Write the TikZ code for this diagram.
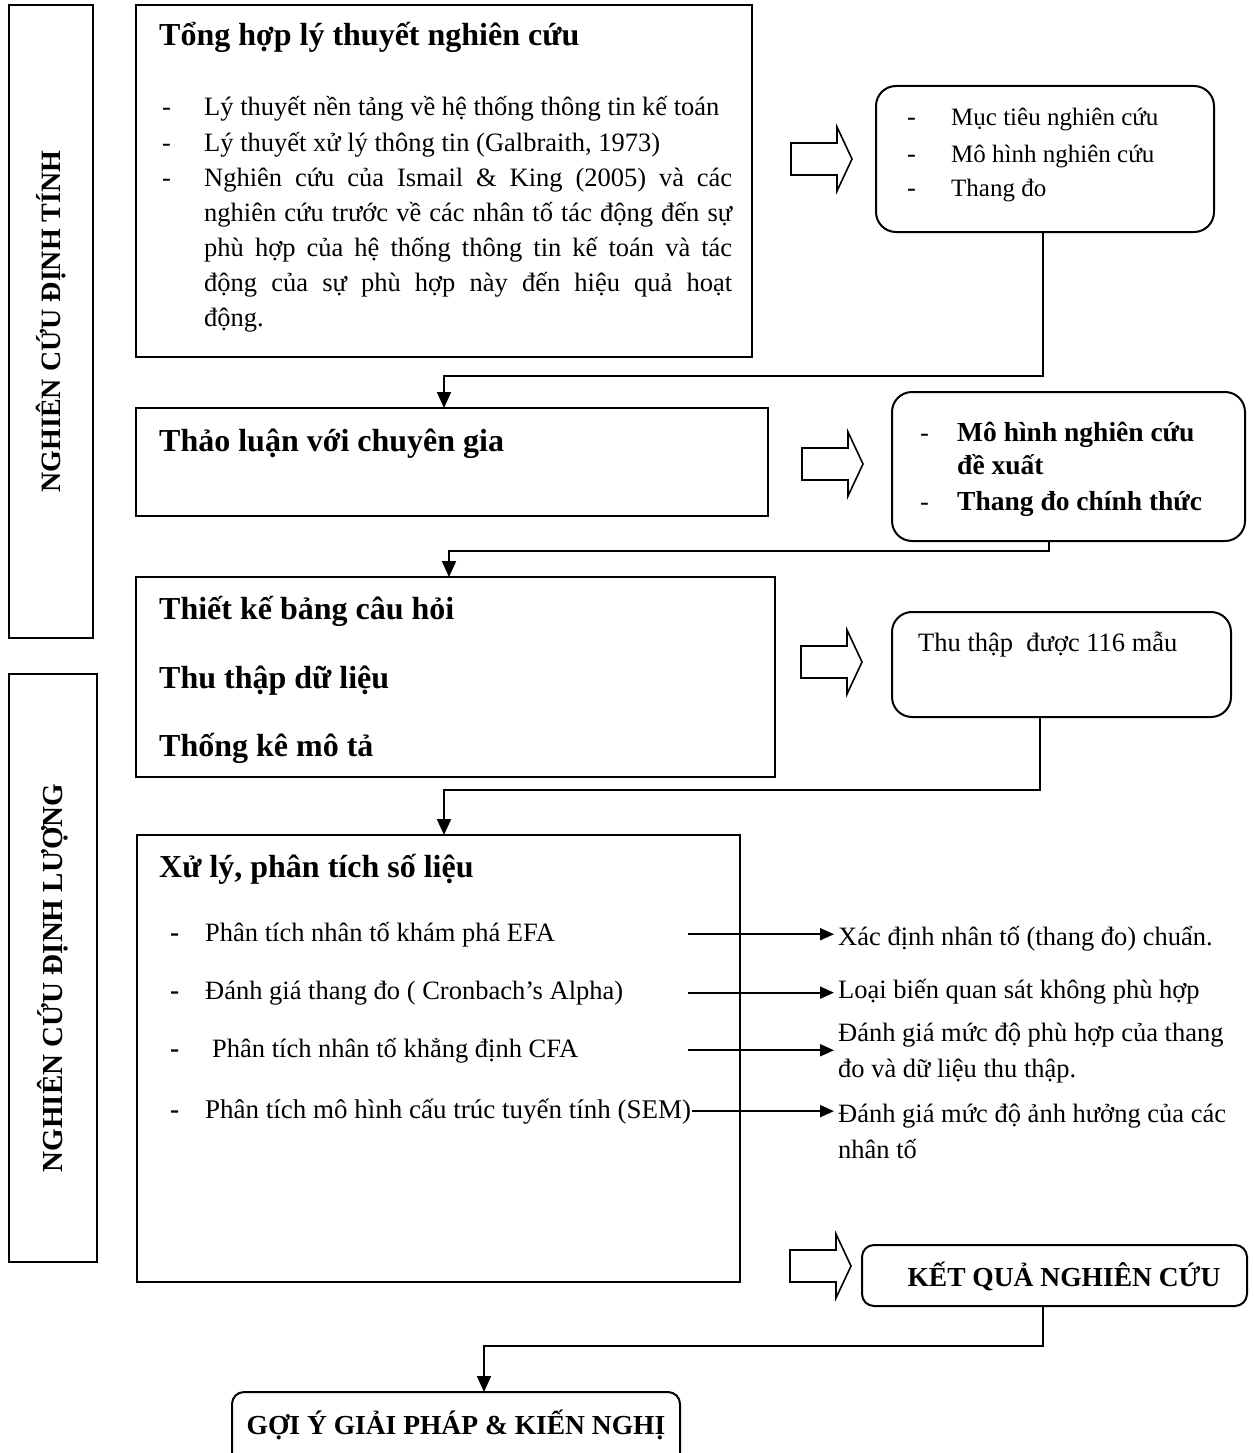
\documentclass[tikz,border=0pt]{standalone}
\usepackage{fontspec}
\setmainfont{Liberation Serif}
\usetikzlibrary{arrows.meta}
\newcommand{\jline}[1]{\makebox[528pt][s]{#1}}
\begin{document}
\begin{tikzpicture}[x=1pt,y=-1pt,
  frame/.style={draw, line width=2pt, inner sep=0pt, outer sep=0pt, anchor=north west},
  rframe/.style={frame, rounded corners=20pt},
  sframe/.style={frame, rounded corners=12pt},
  side/.style={frame, line width=2.5pt},
  body/.style={font=\fontsize{26.5}{32}\selectfont, inner sep=0pt, anchor=base west},
  bodyb/.style={font=\bfseries\fontsize{27.5}{32}\selectfont, inner sep=0pt, anchor=base west},
  head/.style={font=\bfseries\fontsize{32}{38}\selectfont, inner sep=0pt, anchor=base west},
  caphead/.style={font=\bfseries\fontsize{27.5}{32}\selectfont, inner sep=0pt},
  vlabel/.style={font=\bfseries\fontsize{28}{32}\selectfont, rotate=90, inner sep=0pt},
  conn/.style={line width=2pt},
  flow/.style={conn, -{Triangle[length=16pt,width=14pt]}},
  pointer/.style={line width=2pt, shorten >=4pt, -{Triangle[length=14pt,width=12pt]}},
  blockarrow/.pic={\draw[line width=1.6pt, line join=miter]
     (0,-16) -- (46,-16) -- (46,-32) -- (61,0) -- (46,32) -- (46,16) -- (0,16) -- cycle;}
]
\useasboundingbox (0,0) rectangle (1253,1453);
\clip (0,0) rectangle (1253,1453);
\fill[white] (0,0) rectangle (1253,1453);

% phase labels on the left
\node[side, minimum width=84pt, minimum height=633pt] (L1) at (9,5) {};
\node[vlabel] (L1t) at (L1.center) {NGHIÊN CỨU ĐỊNH TÍNH};
\node[side, minimum width=88pt, minimum height=588pt] (L2) at (9,674) {};
\node[vlabel, font=\bfseries\fontsize{29}{32}\selectfont] (L2t) at ([yshift=-10pt]L2.center) {NGHIÊN CỨU ĐỊNH LƯỢNG};

% step 1: theory review
\node[frame, minimum width=616pt, minimum height=352pt] (A) at (136,5) {};
\node[head] (At) at (159,46) {Tổng hợp lý thuyết nghiên cứu};
\foreach \y [count=\i] in {116,151,186} \node[body] (Ad\i) at (162,\y) {-};
\node[body] (Aa1) at (204,116) {Lý thuyết nền tảng về hệ thống thông tin kế toán};
\node[body] (Aa2) at (204,151) {Lý thuyết xử lý thông tin (Galbraith, 1973)};
\node[body] (Aa3) at (204,186) {\jline{Nghiên cứu của Ismail \& King (2005) và các}};
\node[body] (Aa4) at (204,221) {\jline{nghiên cứu trước về các nhân tố tác động đến sự}};
\node[body] (Aa5) at (204,256) {\jline{phù hợp của hệ thống thông tin kế toán và tác}};
\node[body] (Aa6) at (204,291) {\jline{động của sự phù hợp này đến hiệu quả hoạt}};
\node[body] (Aa7) at (204,326) {động.};

\pic at (791,159) {blockarrow};
\node[rframe, minimum width=338pt, minimum height=146pt] (B) at (876,86) {};
\foreach \y [count=\i] in {126,162,196} \node[body] (Bd\i) at (907,\y) {-};
\node[body, font=\fontsize{25}{30}\selectfont] (Bb1) at (951,126) {Mục tiêu nghiên cứu};
\node[body, font=\fontsize{25}{30}\selectfont] (Bb2) at (951,162) {Mô hình nghiên cứu};
\node[body, font=\fontsize{25}{30}\selectfont] (Bb3) at (951,196) {Thang đo};

% step 2: expert discussion
\node[frame, minimum width=632pt, minimum height=108pt] (C) at (136,408) {};
\node[head] (Ct) at (159,451) {Thảo luận với chuyên gia};

\pic at (802,464) {blockarrow};
\node[rframe, minimum width=353pt, minimum height=149pt] (D) at (892,392) {};
\foreach \y [count=\i] in {441,510} \node[body] (Dd\i) at (920,\y) {-};
\node[bodyb] (Db1) at (957,441) {Mô hình nghiên cứu};
\node[bodyb] (Db2) at (957,474) {đề xuất};
\node[bodyb] (Db3) at (957,510) {Thang đo chính thức};

% step 3: survey
\node[frame, minimum width=639pt, minimum height=200pt] (E) at (136,577) {};
\node[head] (Et1) at (159,619) {Thiết kế bảng câu hỏi};
\node[head] (Et2) at (159,688) {Thu thập dữ liệu};
\node[head] (Et3) at (159,756) {Thống kê mô tả};

\pic at (801,662) {blockarrow};
\node[rframe, minimum width=339pt, minimum height=105pt] (F) at (892,612) {};
\node[body] (Ff) at (918,651) {Thu thập\ \ được 116 mẫu};

% step 4: data analysis
\node[frame, minimum width=603pt, minimum height=447pt] (G) at (137,835) {};
\node[head] (Gt) at (159,877) {Xử lý, phân tích số liệu};
\foreach \y [count=\i] in {941,999,1057,1118} \node[bodyb] (Gd\i) at (170,\y) {-};
\node[body] (G1) at (205,941) {Phân tích nhân tố khám phá EFA};
\node[body] (G2) at (205,999) {Đánh giá thang đo ( Cronbach’s Alpha)};
\node[body] (G3) at (212,1057) {Phân tích nhân tố khẳng định CFA};
\node[body, font=\fontsize{27}{32}\selectfont] (G4) at (205,1118) {Phân tích mô hình cấu trúc tuyến tính (SEM)};

\node[body] (R1) at (838,945) {Xác định nhân tố (thang đo) chuẩn.};
\node[body] (R2) at (838,998) {Loại biến quan sát không phù hợp};
\node[body] (R3a) at (838,1041) {Đánh giá mức độ phù hợp của thang};
\node[body] (R3b) at (838,1077) {đo và dữ liệu thu thập.};
\node[body] (R4a) at (838,1122) {Đánh giá mức độ ảnh hưởng của các};
\node[body] (R4b) at (838,1158) {nhân tố};

% result pointers: each starts level with its analysis step
\coordinate (sx) at (688,0);
\draw[pointer] (sx |- G1.east) -- (G1.east -| R1.west);
\draw[pointer] (sx |- G2.east) -- (G2.east -| R2.west);
\draw[pointer] (sx |- G3.east) -- (G3.east -| R3a.west);
\draw[pointer] ([xshift=1pt]G4.east) -- (G4.east -| R4a.west);

\pic at (790,1266) {blockarrow};
\node[sframe, minimum width=385pt, minimum height=61pt] (H) at (862,1245) {};
\node[caphead] (Ht) at (1064,1276) {KẾT QUẢ NGHIÊN CỨU};

\node[sframe, minimum width=448pt, minimum height=90pt] (I) at (232,1392) {};
\node[caphead, anchor=base] (It) at (456,1434) {GỢI Ý GIẢI PHÁP \& KIẾN NGHỊ};

% flow connectors between steps
\coordinate (k1) at (1043,376);
\coordinate (k2) at (444,376);
\draw[flow] (B.south -| k1) -- (k1) -- (k2) -- (C.north -| k2);
\coordinate (k3) at (1049,551);
\coordinate (k4) at (449,551);
\draw[flow] (D.south -| k3) -- (k3) -- (k4) -- (E.north -| k4);
\coordinate (k5) at (1040,790);
\coordinate (k6) at (444,790);
\draw[flow] (F.south -| k5) -- (k5) -- (k6) -- (G.north -| k6);
\coordinate (k7) at (1043,1346);
\coordinate (k8) at (484,1346);
\draw[flow] (H.south -| k7) -- (k7) -- (k8) -- (I.north -| k8);
\end{tikzpicture}
\end{document}
